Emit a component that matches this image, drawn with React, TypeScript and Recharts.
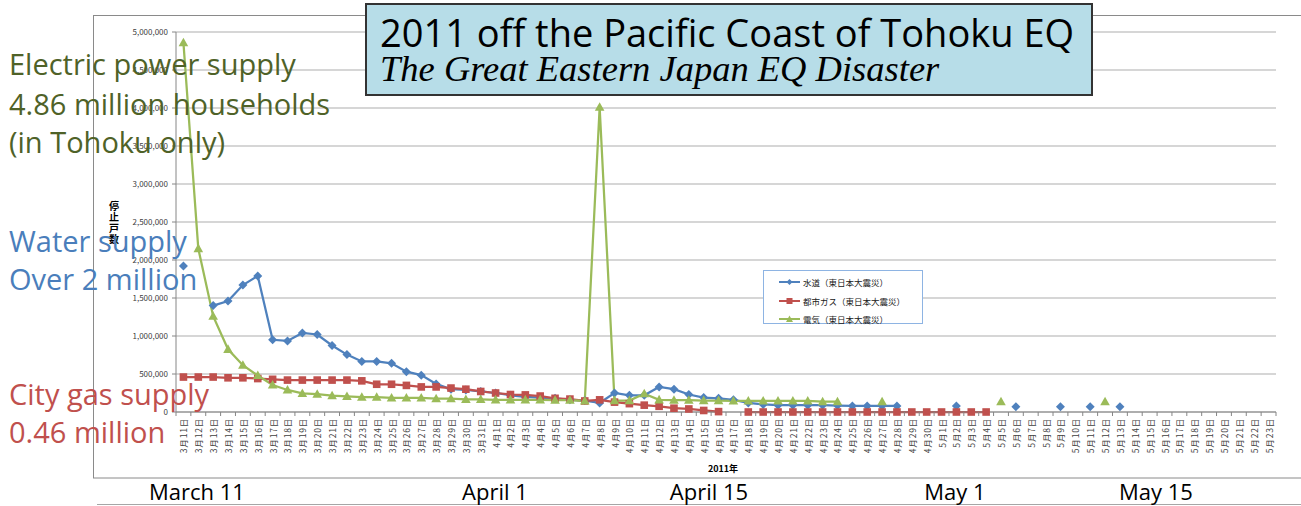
import React from 'react';
import { LineChart, Line, XAxis, YAxis, CartesianGrid, Legend } from 'recharts';

// categories: 2011年 3月11日 .. 5月23日
const days = [
  '3月11日', '3月12日', '3月13日', '3月14日', '3月15日', '3月16日', '3月17日', '3月18日', '3月19日', '3月20日', '3月21日',
  '3月22日', '3月23日', '3月24日', '3月25日', '3月26日', '3月27日', '3月28日', '3月29日', '3月30日', '3月31日',
  '4月1日', '4月2日', '4月3日', '4月4日', '4月5日', '4月6日', '4月7日', '4月8日', '4月9日', '4月10日',
  '4月11日', '4月12日', '4月13日', '4月14日', '4月15日', '4月16日', '4月17日', '4月18日', '4月19日', '4月20日',
  '4月21日', '4月22日', '4月23日', '4月24日', '4月25日', '4月26日', '4月27日', '4月28日', '4月29日', '4月30日',
  '5月1日', '5月2日', '5月3日', '5月4日', '5月5日', '5月6日', '5月7日', '5月8日', '5月9日', '5月10日',
  '5月11日', '5月12日', '5月13日', '5月14日', '5月15日', '5月16日', '5月17日', '5月18日', '5月19日', '5月20日',
  '5月21日', '5月22日', '5月23日',
];

// 水道
const water = [
  1920000, null, 1400000, 1460000, 1670000, 1790000, 950000, 935000, 1040000, 1020000, 875000,
  755000, 665000, 665000, 640000, 530000, 485000, 370000, 300000, 290000, 270000,
  250000, 220000, 200000, 190000, 180000, 160000, 150000, 120000, 250000, 220000,
  220000, 330000, 300000, 230000, 190000, 180000, 160000, 120000, 100000, 90000,
  90000, 90000, 90000, 85000, 80000, 80000, 80000, 80000, null, null,
  null, 80000, null, null, null, 70000, null, null, 70000, null,
  70000, null, 70000, null, null, null, null, null, null, null,
  null, null, null,
];

// 都市ガス
const gas = [
  460000, 460000, 460000, 450000, 450000, 440000, 430000, 420000, 420000, 420000, 420000,
  420000, 410000, 365000, 365000, 350000, 330000, 330000, 315000, 300000, 270000,
  250000, 230000, 225000, 210000, 180000, 170000, 145000, 160000, 130000, 110000,
  90000, 75000, 50000, 40000, 20000, 5000, null, 0, 0, 0,
  0, 0, 0, 0, 0, 0, 0, 0, 0, 0,
  0, 0, 0, 0, null, null, null, null, null, null,
  null, null, null, null, null, null, null, null, null, null,
  null, null, null,
];

// 電気
const power = [
  4860000, 2150000, 1260000, 825000, 615000, 480000, 355000, 290000, 245000, 235000, 215000,
  205000, 195000, 195000, 185000, 185000, 185000, 175000, 175000, 165000, 165000,
  160000, 160000, 160000, 160000, 155000, 155000, 145000, 4010000, 150000, 150000,
  240000, 160000, 155000, 155000, 150000, 150000, 145000, 145000, 145000, 145000,
  145000, 145000, 135000, 135000, null, null, 135000, null, null, null,
  null, null, null, null, 135000, null, null, null, null, null,
  null, 135000, null, null, null, null, null, null, null, null,
  null, null, null,
];

const yTicks = [0, 500000, 1000000, 1500000, 2000000, 2500000, 3000000, 3500000, 4000000, 4500000, 5000000];

const data = days.map((d, i) => ({ day: d, water: water[i], gas: gas[i], power: power[i] }));

const BLUE = '#4f81bd';
const RED = '#c0504d';
const GREEN = '#9bbb59';
const JP = '"Noto Sans CJK JP", "Noto Sans", sans-serif';
const SANS = '"Open Sans", "Noto Sans", sans-serif';

const PLOT_L = 176;
const PLOT_R = 1276;
const PLOT_B = 412;
const BW = (PLOT_R - PLOT_L) / days.length;

const Diamond = (p: any) => {
  if (p.cx == null || p.cy == null || p.value == null) return <g key={p.key} />;
  const r = 4.5;
  return <path key={p.key} d={`M${p.cx},${p.cy - r}L${p.cx + r},${p.cy}L${p.cx},${p.cy + r}L${p.cx - r},${p.cy}Z`} fill={BLUE} />;
};
const Square = (p: any) => {
  if (p.cx == null || p.cy == null || p.value == null) return <g key={p.key} />;
  return <rect key={p.key} x={p.cx - 3.8} y={p.cy - 3.8} width={7.6} height={7.6} fill={RED} />;
};
const Triangle = (p: any) => {
  if (p.cx == null || p.cy == null || p.value == null) return <g key={p.key} />;
  return <path key={p.key} d={`M${p.cx},${p.cy - 5}L${p.cx + 4.8},${p.cy + 3.6}L${p.cx - 4.8},${p.cy + 3.6}Z`} fill={GREEN} />;
};

const XTick = ({ x, payload, index }: any) => (
  <g>
    <line x1={x - BW / 2} y1={PLOT_B} x2={x - BW / 2} y2={PLOT_B + 4} stroke="#868686" />
    {index === days.length - 1 && <line x1={x + BW / 2} y1={PLOT_B} x2={x + BW / 2} y2={PLOT_B + 4} stroke="#868686" />}
    <text
      transform={`translate(${x},${PLOT_B + 6}) rotate(-90)`}
      textAnchor="end"
      dominantBaseline="central"
      fontSize={8.5}
      letterSpacing={0.8}
      fill="#404040"
      fontFamily={JP}
    >
      {payload.value}
    </text>
  </g>
);

const LegendBox = ({ payload }: any) => (
  <div style={{ width: 160, height: 54, border: '1px solid #8eb4e3', background: '#fff', boxSizing: 'border-box', paddingTop: 2 }}>
    {(payload || []).map((e: any, i: number) => (
      <div key={i} style={{ display: 'flex', alignItems: 'center', height: 19 - (i === 1 ? 0 : 1), paddingLeft: 15 }}>
        <svg width={22} height={10} style={{ marginRight: 2 }}>
          <line x1={0} y1={5} x2={21} y2={5} stroke={e.color} strokeWidth={2} />
          {i === 0 && <path d="M10.5,2L13.5,5L10.5,8L7.5,5Z" fill={e.color} />}
          {i === 1 && <rect x={7.5} y={2} width={6} height={6} fill={e.color} />}
          {i === 2 && <path d="M10.5,1.5L14,8L7,8Z" fill={e.color} />}
        </svg>
        <span style={{ fontFamily: JP, fontSize: 8.5, color: '#202020', whiteSpace: 'nowrap' }}>{e.value}</span>
      </div>
    ))}
  </div>
);

export default function App() {
  return (
    <div style={{ position: 'absolute', left: 0, top: 0, width: 1301, height: 506, background: '#fff', overflow: 'hidden' }}>
      <svg width={1301} height={506} style={{ position: 'absolute', left: 0, top: 0 }}>
        <rect x={93.5} y={15.5} width={1300} height={462.5} fill="none" stroke="#8a8a8a" />
        <line x1={97} y1={504.5} x2={1301} y2={504.5} stroke="#a6a6a6" />
      </svg>
      <div style={{ position: 'absolute', left: 0, top: 0 }}>
        <LineChart width={1301} height={506} data={data} margin={{ top: 32, right: 25, left: 96, bottom: 34 }}>
          <CartesianGrid vertical={false} stroke="#c8c8c8" strokeWidth={1.5} />
          <XAxis
            dataKey="day"
            scale="band"
            interval={0}
            height={60}
            tick={<XTick />}
            tickLine={false}
            axisLine={{ stroke: '#868686' }}
          />
          <YAxis
            width={80}
            domain={[0, 5000000]}
            ticks={yTicks}
            tickSize={4}
            tickMargin={4}
            axisLine={{ stroke: '#868686' }}
            tickLine={{ stroke: '#868686' }}
            tick={{ fontSize: 8, fill: '#404040', fontFamily: JP }}
            tickFormatter={(v: number) => v.toLocaleString('en-US')}
          />
          <Legend
            layout="vertical"
            align="center"
            verticalAlign="middle"
            content={<LegendBox />}
            wrapperStyle={{ position: 'absolute', left: 763, top: 270, width: 160, height: 54 }}
          />
          <Line type="linear" dataKey="water" name="水道（東日本大震災）" stroke={BLUE} strokeWidth={2.25} dot={Diamond} activeDot={false} isAnimationActive={false} />
          <Line type="linear" dataKey="gas" name="都市ガス（東日本大震災）" stroke={RED} strokeWidth={2.25} dot={Square} activeDot={false} isAnimationActive={false} />
          <Line type="linear" dataKey="power" name="電気（東日本大震災）" stroke={GREEN} strokeWidth={2.25} dot={Triangle} activeDot={false} isAnimationActive={false} />
        </LineChart>
      </div>
      <svg width={1301} height={506} style={{ position: 'absolute', left: 0, top: 0, pointerEvents: 'none' }}>
        <text x={114} y={200} fontFamily={JP} fontSize={10} fontWeight="bold" textAnchor="middle">
          <tspan x={114} dy={10}>停</tspan>
          <tspan x={114} dy={11}>止</tspan>
          <tspan x={114} dy={11}>戸</tspan>
          <tspan x={114} dy={11}>数</tspan>
        </text>
        <text x={723} y={472} fontFamily={JP} fontSize={9} fontWeight="bold" textAnchor="middle">2011年</text>

        <rect x={366} y={4} width={726} height={91} fill="#b7dde8" stroke="#333" strokeWidth={2} />
        <text x={380} y={47} fontFamily={SANS} fontSize={38} fill="#000">2011 off the Pacific Coast of Tohoku EQ</text>
        <text x={380} y={81} fontFamily='"Liberation Serif", serif' fontStyle="italic" fontSize={36.5} fill="#000">The Great Eastern Japan EQ Disaster</text>

        <g fontFamily={SANS} fontSize={29}>
          <text x={9} y={75} fill="#4f6228">Electric power supply</text>
          <text x={9} y={115} fill="#4f6228">4.86 million households</text>
          <text x={9} y={153} fill="#4f6228">(in Tohoku only)</text>
          <text x={9} y={252} fill="#4a7ebb">Water supply</text>
          <text x={9} y={290} fill="#4a7ebb">Over 2 million</text>
          <text x={9} y={405} fill={RED}>City gas supply</text>
          <text x={9} y={443} fill={RED}>0.46 million</text>
        </g>

        <g fontFamily={SANS} fontSize={22} fill="#000" textAnchor="middle">
          <text x={197} y={500}>March 11</text>
          <text x={495} y={500}>April 1</text>
          <text x={709} y={500}>April 15</text>
          <text x={955} y={500}>May 1</text>
          <text x={1156} y={500}>May 15</text>
        </g>
      </svg>
    </div>
  );
}
